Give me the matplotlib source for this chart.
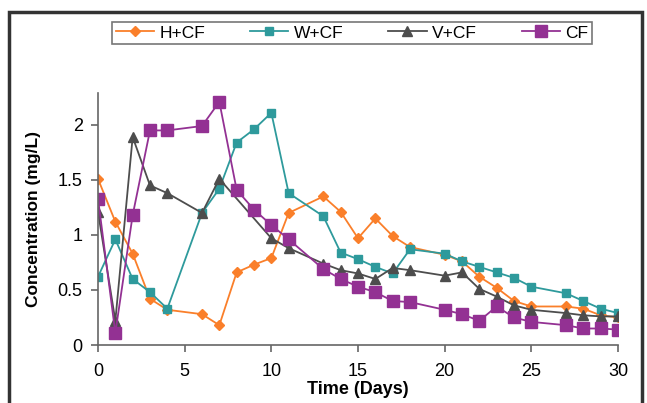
import matplotlib
matplotlib.use("Agg")
import matplotlib.pyplot as plt
from matplotlib.patches import Rectangle

plt.rcParams["font.family"] = ["Liberation Sans", "DejaVu Sans"]

# data (mg/L)
days = [0, 1, 2, 3, 4, 6, 7, 8, 9, 10, 11, 13, 14, 15, 16, 17, 18, 20, 21, 22, 23, 24, 25, 27, 28, 29, 30]
h_cf = [1.51, 1.12, 0.83, 0.42, 0.32, 0.28, 0.18, 0.66, 0.73, 0.79, 1.20, 1.35, 1.21, 0.97, 1.15, 0.99, 0.89,
        0.82, 0.76, 0.62, 0.52, 0.40, 0.35, 0.35, 0.33, 0.27, 0.25]
w_cf = [0.62, 0.96, 0.60, 0.48, 0.33, 1.20, 1.42, 1.84, 1.96, 2.11, 1.38, 1.17, 0.84, 0.78, 0.71, 0.65, 0.87,
        0.83, 0.76, 0.71, 0.66, 0.61, 0.53, 0.47, 0.40, 0.33, 0.29]
v_days = [0, 1, 2, 3, 4, 6, 7, 10, 11, 13, 14, 15, 16, 17, 18, 20, 21, 22, 23, 24, 25, 27, 28, 29, 30]
v_cf = [1.21, 0.22, 1.89, 1.45, 1.38, 1.20, 1.51, 0.97, 0.88, 0.74, 0.68, 0.65, 0.60, 0.70, 0.68,
        0.63, 0.66, 0.51, 0.44, 0.36, 0.32, 0.29, 0.27, 0.26, 0.26]
cf = [1.33, 0.11, 1.18, 1.95, 1.95, 1.99, 2.21, 1.41, 1.23, 1.09, 0.96, 0.69, 0.60, 0.53, 0.48, 0.40, 0.39,
      0.32, 0.28, 0.22, 0.35, 0.25, 0.21, 0.18, 0.15, 0.15, 0.14]

fig = plt.figure(figsize=(6.47, 4.03), dpi=100)
ax = fig.add_axes([98 / 647, 58 / 403, 520 / 647, 252 / 403])

# chart frame
fig.patches.append(Rectangle((9 / 647, -0.1), 633 / 647, 1.1 - 12.5 / 403, transform=fig.transFigure,
                             fill=False, edgecolor="#333333", linewidth=2.5))

ax.plot(days, h_cf, color="#FA7F2A", marker="D", markersize=5, linewidth=1.3, label="H+CF")
ax.plot(days, w_cf, color="#2E9A9C", marker="s", markersize=5.5, linewidth=1.3, label="W+CF")
ax.plot(v_days, v_cf, color="#4D4D4D", marker="^", markersize=7, linewidth=1.3, label="V+CF")
ax.plot(days, cf, color="#933193", marker="s", markersize=9, linewidth=1.3, label="CF")

ax.set_xlim(0, 30)
ax.set_ylim(0, 2.29)
ax.set_xticks([0, 5, 10, 15, 20, 25, 30])
ax.set_yticks([0, 0.5, 1, 1.5, 2])
ax.set_yticklabels(["0", "0.5", "1", "1.5", "2"])
ax.tick_params(labelsize=13, length=5, color="#666666", width=1.2)
ax.tick_params(axis="x", pad=8)
ax.tick_params(axis="y", pad=6)
for s in ["top", "right"]:
    ax.spines[s].set_visible(False)
for s in ["left", "bottom"]:
    ax.spines[s].set_color("#666666")
    ax.spines[s].set_linewidth(1.2)

ax.set_xlabel("Time (Days)", fontsize=13, fontweight="bold", labelpad=1)
ax.set_ylabel("Concentration (mg/L)", fontsize=12.5, fontweight="bold", labelpad=12)

leg = fig.legend(loc="center", bbox_to_anchor=(352 / 647, 1 - 33 / 403), ncol=4, fontsize=12.5,
                 frameon=True, fancybox=False, edgecolor="#555555", handlelength=2.2,
                 columnspacing=2.6, borderpad=0.2, handletextpad=0.3, borderaxespad=0)
leg.get_frame().set_linewidth(1.2)

fig.savefig("out.png", dpi=100)
